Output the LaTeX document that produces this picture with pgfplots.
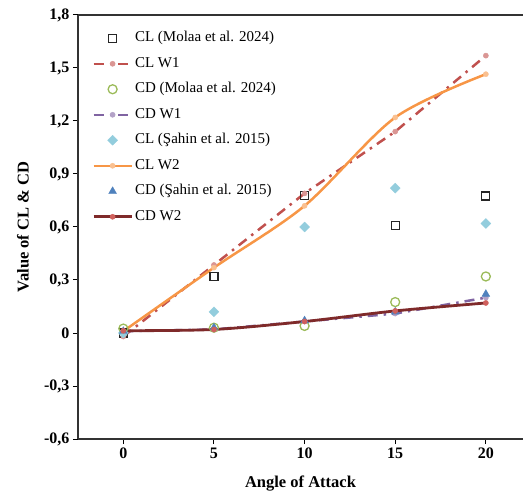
\documentclass[border=0pt]{standalone}
\usepackage{fontspec}
\setmainfont{Liberation Serif}
\usepackage{pgfplots}
\pgfplotsset{compat=1.18}
\definecolor{cBlack}{HTML}{000000}
\definecolor{cRed}{HTML}{C0504D}
\definecolor{cRedM}{HTML}{DA9694}
\definecolor{cGreen}{HTML}{9BBB59}
\definecolor{cPurple}{HTML}{8064A2}
\definecolor{cPurpleM}{HTML}{B3A2C7}
\definecolor{cCyan}{HTML}{93CDDD}
\definecolor{cOrange}{HTML}{F79646}
\definecolor{cOrangeM}{HTML}{FAC090}
\definecolor{cBlue}{HTML}{4F81BD}
\definecolor{cMaroon}{HTML}{7F2A2A}
\definecolor{cMaroonM}{HTML}{D0605C}
\begin{document}
\begin{tikzpicture}
\begin{axis}[
  name=ax,
  scale only axis,
  width=445pt, height=424pt,
  xmin=-2.5, xmax=22.05,
  ymin=-0.6, ymax=1.8,
  axis x line*=box, axis y line*=left,
  axis line style={-, line width=1.4pt, black!80},
  xtick={0,5,10,15,20},
  xticklabels={0,5,10,15,20},
  ytick={-0.6,-0.3,0,0.3,0.6,0.9,1.2,1.5,1.8},
  yticklabels={{-0,6},{-0,3},0,{0,3},{0,6},{0,9},{1,2},{1,5},{1,8}},
  xtick pos=bottom, ytick pos=left,
  tick align=outside,
  major tick length=5pt,
  tick style={black, line width=1pt},
  ticklabel style={font=\fontsize{16}{19}\selectfont\bfseries},
  xlabel={Angle of Attack},
  ylabel={Value of CL \& CD},
  every axis x label/.style={at={(axis description cs:0.5,-0.104)}, anchor=center, font=\fontsize{16.5}{19}\selectfont\bfseries},
  every axis y label/.style={at={(axis description cs:-0.124,0.5)}, rotate=90, anchor=center, font=\fontsize{16.5}{19}\selectfont\bfseries},
  legend style={at={(axis description cs:0.0315,0.968)}, anchor=north west,
    draw=none, fill=none, inner sep=0pt, row sep=6.5pt,
    font=\fontsize{15}{18}\selectfont,
    nodes={text height=11pt, text depth=4pt, inner sep=2pt}},
  legend cell align=left,
  legend image code/.code={\draw[mark repeat=2,mark phase=2,#1] plot coordinates {(0pt,0pt) (19pt,0pt) (38pt,0pt)};},
]
% CL (Molaa et al. 2024)
\addplot[only marks, mark=square, mark size=4pt, mark options={draw=black!85, line width=1.2pt, fill=none}]
  coordinates {(0,0) (5,0.32) (10,0.78) (15,0.61) (20,0.775)};
\addlegendentry{CL (Molaa et al. 2024)}
% CL W1
\addplot[cRed, line width=2.5pt, dash pattern=on 10pt off 6pt on 2.5pt off 6pt, mark=*, mark size=2.6pt, mark options={solid, line width=0.4pt, draw=cRedM, fill=cRedM}]
  coordinates {(0,-0.02) (5,0.385) (10,0.79) (15,1.14) (20,1.57)};
\addlegendentry{CL W1}
% CD (Molaa et al. 2024)
\addplot[only marks, mark=o, mark size=4.5pt, mark options={draw=cGreen, line width=1.3pt}]
  coordinates {(0,0.025) (5,0.03) (10,0.04) (15,0.175) (20,0.32)};
\addlegendentry{CD (Molaa et al. 2024)}
% CD W1
\addplot[cPurple, line width=2.5pt, dash pattern=on 10pt off 6pt on 2.5pt off 6pt, mark=*, mark size=2.6pt, mark options={solid, line width=0.4pt, draw=cPurpleM, fill=cPurpleM}]
  coordinates {(0,0.01) (5,0.02) (10,0.065) (15,0.11) (20,0.2)};
\addlegendentry{CD W1}
% CL (Sahin et al. 2015)
\addplot[only marks, mark=square*, mark size=3.5pt, mark options={rotate=45, line width=0.4pt, draw=cCyan, fill=cCyan}]
  coordinates {(0,0) (5,0.12) (10,0.6) (15,0.82) (20,0.62)};
\addlegendentry{CL (Şahin et al. 2015)}
% CL W2
\addplot[cOrange, line width=2.5pt, smooth, mark=*, mark size=2.6pt, mark options={line width=0.4pt, draw=cOrangeM, fill=cOrangeM}]
  coordinates {(0,0.01) (5,0.37) (10,0.72) (15,1.22) (20,1.465)};
\addlegendentry{CL W2}
% CD (Sahin et al. 2015)
\addplot[only marks, mark=triangle*, mark size=4.5pt, mark options={line width=0.4pt, draw=cBlue, fill=cBlue}]
  coordinates {(0,0.01) (5,0.03) (10,0.07) (15,0.12) (20,0.22)};
\addlegendentry{CD (Şahin et al. 2015)}
% CD W2
\addplot[cMaroon, line width=2.8pt, smooth, mark=*, mark size=2.6pt, mark options={line width=0.4pt, draw=cMaroonM, fill=cMaroonM}]
  coordinates {(0,0.013) (5,0.02) (10,0.065) (15,0.125) (20,0.17)};
\addlegendentry{CD W2}
\end{axis}
\pgfresetboundingbox
\useasboundingbox ([xshift=-78pt,yshift=-53pt]ax.south west) rectangle ([yshift=15pt]ax.north east);
\end{tikzpicture}
\end{document}
